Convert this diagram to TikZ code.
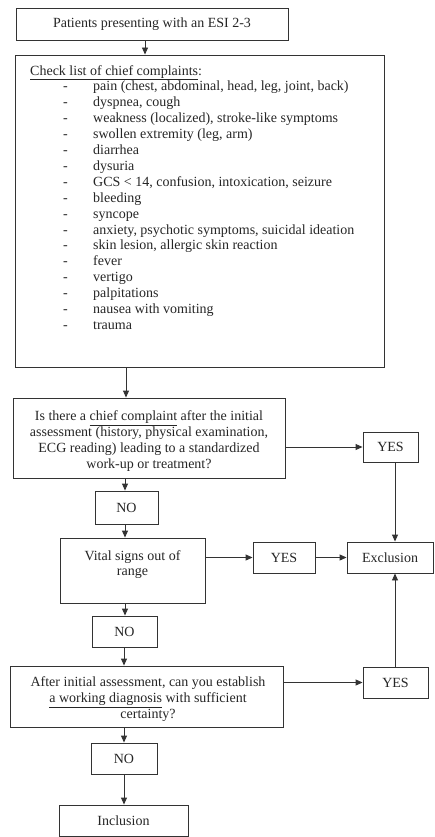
\documentclass[tikz,border=0pt]{standalone}
\usepackage{fontspec}
\setmainfont{Liberation Serif}
\usetikzlibrary{arrows.meta}
\definecolor{linec}{gray}{0.2}
\definecolor{txtc}{gray}{0.15}
\newcommand\ffnt{\fontsize{14}{15.9}\selectfont}
\newcommand\itm[1]{\hspace*{33pt}\makebox[30pt][l]{-}#1}
\tikzset{
  bx/.style={draw=linec, line width=0.9pt, inner sep=0pt, text=txtc, font=\ffnt, align=center},
  txt/.style={inner sep=0pt, text=txtc, font=\ffnt},
  arr/.style={draw=linec, line width=0.9pt, -{Triangle[length=7pt,width=6pt]}},
  ln/.style={draw=linec, line width=0.9pt}
}
\begin{document}
\begin{tikzpicture}[x=1pt,y=-1pt]
\useasboundingbox[fill=white] (0,0) rectangle (435,837);
% boxes
\node[bx, minimum width=272, minimum height=32] (esi) at (152,24) {Patients presenting with an ESI 2-3};
\node[bx, minimum width=369, minimum height=312] (chk) at (199.5,211) {};
\node[txt, anchor=north west, align=left] (list) at (30,65) {%
\underline{Check list of chief complaints}:\\
\itm{pain (chest, abdominal, head, leg, joint, back)}\\
\itm{dyspnea, cough}\\
\itm{weakness (localized), stroke-like symptoms}\\
\itm{swollen extremity (leg, arm)}\\
\itm{diarrhea}\\
\itm{dysuria}\\
\itm{GCS < 14, confusion, intoxication, seizure}\\
\itm{bleeding}\\
\itm{syncope}\\
\itm{anxiety, psychotic symptoms, suicidal ideation}\\
\itm{skin lesion, allergic skin reaction}\\
\itm{fever}\\
\itm{vertigo}\\
\itm{palpitations}\\
\itm{nausea with vomiting}\\
\itm{trauma}};
\node[bx, minimum width=272, minimum height=80] (q1) at (149,438) {};
\node[txt, align=center] (q1txt) at (149,441) {Is there a \underline{chief complaint} after the initial\\ assessment (history, physical examination,\\ ECG reading) leading to a standardized\\ work-up or treatment?};
\node[bx, minimum width=55, minimum height=30] (yes1) at (390.5,447) {YES};
\node[bx, minimum width=63, minimum height=33] (no1) at (126.5,507.5) {NO};
\node[bx, minimum width=145, minimum height=65] (vital) at (132.5,570.5) {};
\node[txt, align=center, anchor=north] (vitaltxt) at (132.5,550) {Vital signs out of\\ range};
\node[bx, minimum width=62, minimum height=31] (yes2) at (284,557.5) {YES};
\node[bx, minimum width=86, minimum height=31] (excl) at (390,557.5) {Exclusion};
\node[bx, minimum width=65, minimum height=31] (no2) at (124.5,631.5) {NO};
\node[bx, minimum width=273, minimum height=61] (q3) at (146.5,696.5) {};
\node[txt, align=center] (q3txt) at (148,699) {After initial assessment, can you establish\\ \underline{a working diagnosis} with sufficient\\ certainty?};
\node[bx, minimum width=65, minimum height=31] (yes3) at (395.5,682.5) {YES};
\node[bx, minimum width=66, minimum height=31] (no3) at (124,758.5) {NO};
\node[bx, minimum width=129, minimum height=31] (incl) at (123.5,820.5) {Inclusion};
% x positions of vertical connectors
\coordinate (xa) at (145,0);
\coordinate (xb) at (126,0);
\coordinate (xc) at (125,0);
\coordinate (xd) at (124,0);
\coordinate (xe) at (395,0);
% connectors
\draw[arr] (esi.south -| xa) -- (chk.north -| xa);
\draw[arr] (chk.south -| xb) -- (q1.north -| xb);
\draw[arr] (q1.south -| xc) -- (no1.north -| xc);
\draw[arr] (no1.south -| xc) -- (vital.north -| xc);
\draw[arr] (vital.south -| xc) -- (no2.north -| xc);
\draw[arr] (no2.south -| xd) -- (q3.north -| xd);
\draw[arr] (q3.south -| xd) -- (no3.north -| xd);
\draw[arr] (no3.south -| xd) -- (incl.north -| xd);
\draw[arr] (q1.east |- yes1.west) -- (yes1.west);
\draw[arr] (yes1.south -| xe) -- (excl.north -| xe);
\draw[arr] (vital.east |- yes2.west) -- (yes2.west);
\draw[arr] (yes2.east) -- (excl.west |- yes2.east);
\draw[arr] (q3.east |- yes3.west) -- (yes3.west);
\draw[arr] (yes3.north -| xe) -- (excl.south -| xe);
\end{tikzpicture}
\end{document}
